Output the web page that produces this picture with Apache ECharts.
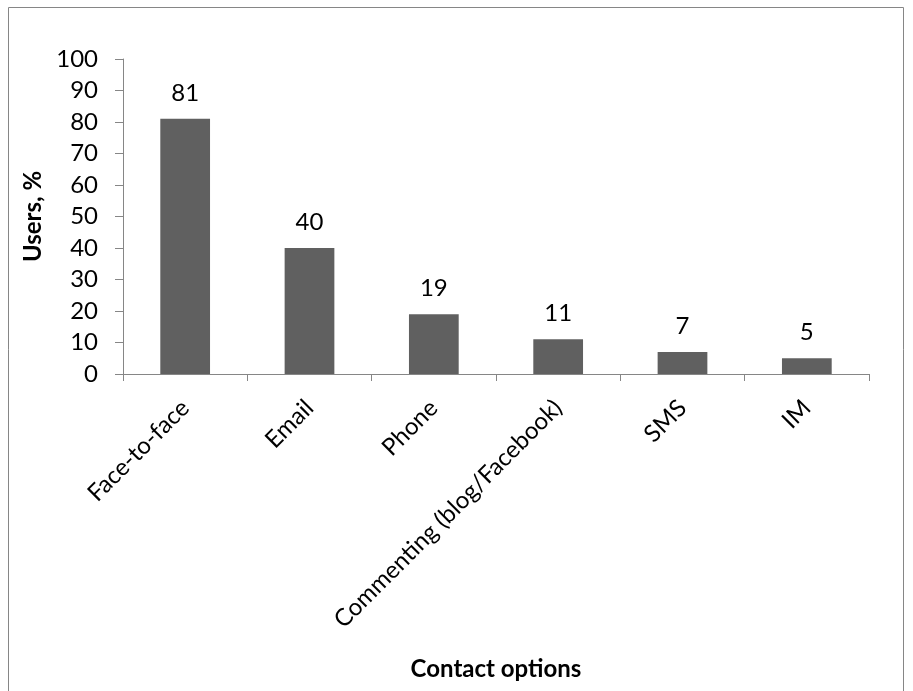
<!DOCTYPE html>
<html>
<head>
<meta charset="utf-8">
<script src="https://cdn.jsdelivr.net/npm/echarts@6/dist/echarts.min.js"></script>
<style>
  html, body { margin: 0; padding: 0; background: #fff; }
  #chart { width: 913px; height: 691px; }
</style>
</head>
<body>
<div id="chart"></div>
<script>
// Share of users by contact option
const categories = ['Face-to-face', 'Email', 'Phone', 'Commenting (blog/Facebook)', 'SMS', 'IM'];
const usersPct = [81, 40, 19, 11, 7, 5];
const yTicks = { min: 0, max: 100, interval: 10 };

const FONT = 'Lato, Carlito, Calibri, "Open Sans", sans-serif';
const FONT_SIZE = 24;
const AXIS_GRAY = '#868686';

const chart = echarts.init(document.getElementById('chart'), null, { renderer: 'canvas' });

chart.setOption({
  backgroundColor: '#ffffff',
  animation: false,
  graphic: [{
    type: 'rect',
    shape: { x: 8.5, y: 7.5, width: 895, height: 700 },
    style: { fill: 'none', stroke: AXIS_GRAY, lineWidth: 1 },
    silent: true
  }],
  grid: { left: 123, right: 44, top: 59, bottom: 317, containLabel: false },
  xAxis: {
    type: 'category',
    data: categories,
    name: 'Contact options',
    nameLocation: 'middle',
    nameGap: 283,
    nameTextStyle: { fontFamily: FONT, fontSize: FONT_SIZE, fontWeight: 'bold', color: '#000' },
    axisLine: { lineStyle: { color: AXIS_GRAY, width: 1 } },
    axisTick: { show: true, length: 7, alignWithLabel: false, lineStyle: { color: AXIS_GRAY } },
    axisLabel: {
      rotate: 45,
      interval: 0,
      margin: 30,
      fontFamily: FONT,
      fontSize: FONT_SIZE,
      color: '#000'
    },
    splitLine: { show: false }
  },
  yAxis: {
    type: 'value',
    min: yTicks.min,
    max: yTicks.max,
    interval: yTicks.interval,
    name: 'Users, %',
    nameLocation: 'middle',
    nameGap: 76,
    nameRotate: 90,
    nameTextStyle: { fontFamily: FONT, fontSize: FONT_SIZE, fontWeight: 'bold', color: '#000' },
    axisLine: { show: true, lineStyle: { color: AXIS_GRAY, width: 1 } },
    axisTick: { show: true, length: 8, lineStyle: { color: AXIS_GRAY } },
    axisLabel: { margin: 25, fontFamily: FONT, fontSize: FONT_SIZE, color: '#000' },
    splitLine: { show: false }
  },
  series: [{
    type: 'bar',
    data: usersPct,
    barWidth: '40%',
    itemStyle: { color: '#606060' },
    label: {
      show: true,
      position: 'top',
      distance: 14,
      fontFamily: FONT,
      fontSize: FONT_SIZE,
      color: '#000'
    }
  }]
});
</script>
</body>
</html>
